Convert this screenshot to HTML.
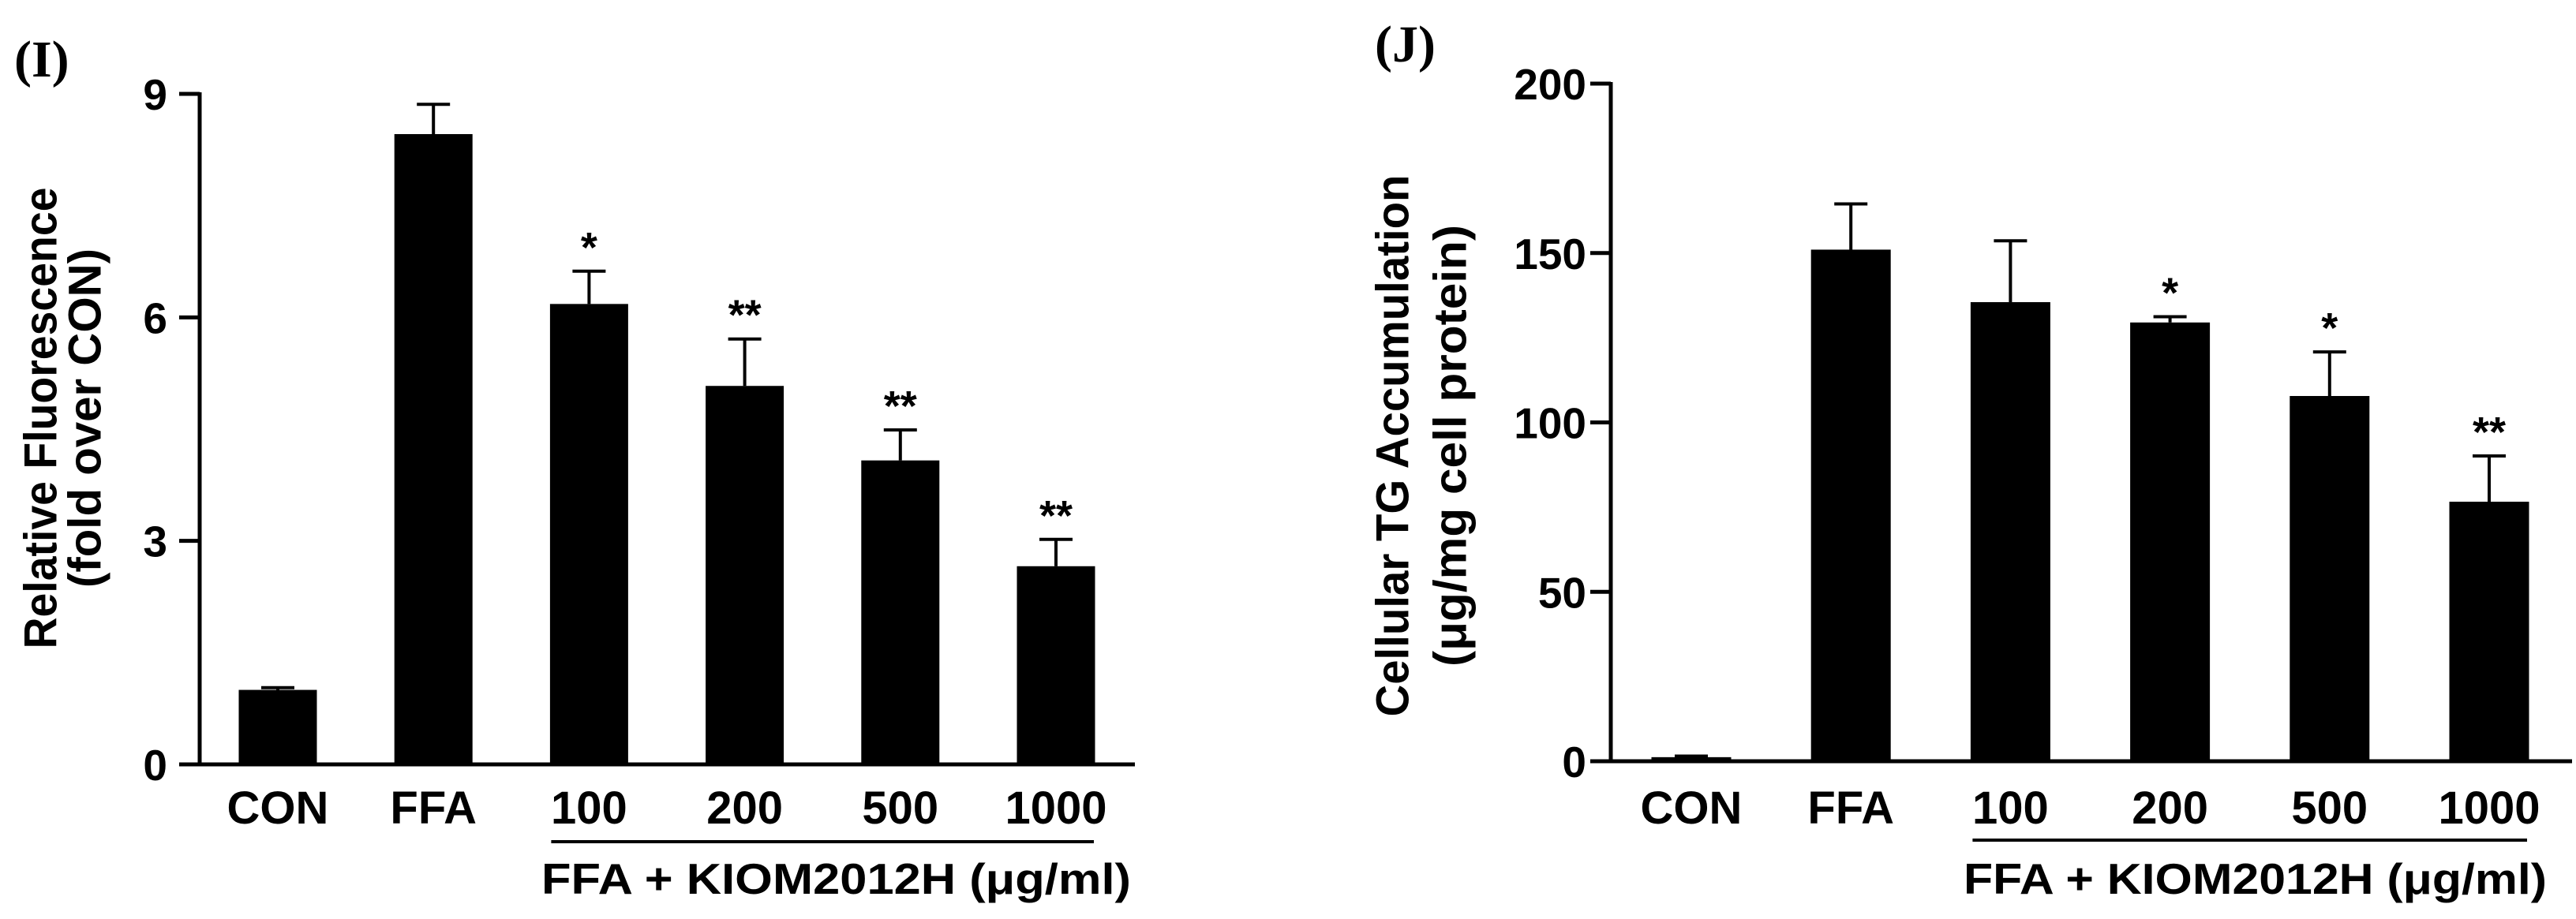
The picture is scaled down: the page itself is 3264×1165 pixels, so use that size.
<!DOCTYPE html>
<html><head><meta charset="utf-8"><style>
html,body{margin:0;padding:0;background:#fff;}
svg{display:block;font-family:"Liberation Sans",sans-serif;font-weight:bold;}
</style></head><body>
<svg id="fig" width="3264" height="1165" viewBox="0 0 3264 1165" xmlns="http://www.w3.org/2000/svg">
<text x="18" y="97" font-family="Liberation Serif,serif" font-size="66" font-weight="bold">(I)</text>
<text x="1742" y="78" font-family="Liberation Serif,serif" font-size="66" font-weight="bold">(J)</text>
</svg>
<script>
const categories = ["CON","FFA","100","200","500","1000"];
const leftValues = [1.0, 8.46, 6.18, 5.08, 4.08, 2.66];
const leftErrors = [0.03, 0.40, 0.44, 0.63, 0.41, 0.36];
const leftStars = ["", "", "*", "**", "**", "**"];
const leftTicks = [0, 3, 6, 9];
const rightValues = [1.2, 151, 135.5, 129.5, 107.8, 76.6];
const rightErrors = [0.3, 13.5, 18.1, 1.7, 13.0, 13.5];
const rightStars = ["", "", "", "*", "*", "**"];
const rightTicks = [0, 50, 100, 150, 200];

const NS = "http://www.w3.org/2000/svg";
const svg = document.getElementById("fig");
function mk(tag, attrs, parent){
  const e = document.createElementNS(NS, tag);
  for (const k in attrs) e.setAttribute(k, attrs[k]);
  (parent||svg).appendChild(e);
  return e;
}

function drawPanel(cfg){
  const g = mk("g", {});
  
  
  const y = v => cfg.y0 - (v - cfg.min) / (cfg.max - cfg.min) * (cfg.y0 - cfg.yTop);
  const x = i => cfg.xFirst + i * cfg.step;
  const ya = mk("line", {x1:cfg.axisX, y1:cfg.yTop-2, x2:cfg.axisX, y2:cfg.y0+2, stroke:"#000","stroke-width":5}, g);
  
  
  const xa = mk("line", {x1:cfg.axisX-2, y1:cfg.y0, x2:cfg.xEnd, y2:cfg.y0, stroke:"#000","stroke-width":5}, g);
  
  
  cfg.ticks.forEach(t => {
    const tk = mk("line", {x1:cfg.axisX-26, y1:y(t), x2:cfg.axisX, y2:y(t), stroke:"#000","stroke-width":5}, g);
    
    
    const tl = mk("text", {x:cfg.tickLabelX, y:y(t)+20, "text-anchor":"end","font-size":55}, g);
    tl.textContent = t;
    
    
  });
  cfg.values.forEach((v, i) => {
    const cx = x(i);
    const b = mk("rect", {x:cx-cfg.barW/2, y:y(v), width:cfg.barW, height:cfg.y0-y(v), fill:"#000"}, g);
    
    
    const top = y(v + cfg.errors[i]);
    const el = mk("line", {x1:cx, y1:y(v), x2:cx, y2:top, stroke:"#000","stroke-width":4}, g);
    
    
    const ec = mk("line", {x1:cx-21, y1:top, x2:cx+21, y2:top, stroke:"#000","stroke-width":4}, g);
    
    
    if (cfg.stars[i]) {
      const s = mk("text", {x:cx, y:top-12, "text-anchor":"middle","font-size":54}, g);
      s.textContent = cfg.stars[i];
      
      
    }
    const lbl = mk("text", {x:cx, y:1044, "text-anchor":"middle","font-size":58}, g);
    lbl.textContent = categories[i];
    
    
  });
  const ul = mk("line", {x1:x(2)-48, y1:cfg.ulY, x2:x(5)+48, y2:cfg.ulY, stroke:"#000","stroke-width":4}, g);
  
  
  const bt = mk("text", {x:cfg.btX, y:1133, "font-size":55, textLength:cfg.btW, lengthAdjust:"spacingAndGlyphs"}, g);
  bt.textContent = "FFA + KIOM2012H (\u03BCg/ml)";
  
  
  cfg.ylab.forEach((l, k) => {
    const t = mk("text", {x:0, y:0, transform:`translate(${l.x},${cfg.ylCenter}) rotate(-90)`, "text-anchor":"middle","dominant-baseline":"central","font-size":58, textLength:l.len, lengthAdjust:"spacingAndGlyphs"}, g);
    t.textContent = l.t;
    
    
  });
}

drawPanel({name:"chart-relative-fluorescence", values:leftValues, errors:leftErrors, stars:leftStars, ticks:leftTicks,
  min:0, max:9, y0:969, yTop:119, axisX:253, xEnd:1438, xFirst:352, step:197.2, barW:99,
  tickLabelX:212, ulY:1067, btX:686, btW:747, ylCenter:530,
  ylab:[{x:52,t:"Relative Fluorescence",len:585},{x:108,t:"(fold over CON)",len:430}]});

drawPanel({name:"chart-cellular-tg", values:rightValues, errors:rightErrors, stars:rightStars, ticks:rightTicks,
  min:0, max:200, y0:965, yTop:106, axisX:2041, xEnd:3259, xFirst:2143, step:202.2, barW:101,
  tickLabelX:2010, ulY:1065, btX:2488, btW:739, ylCenter:565,
  ylab:[{x:1765,t:"Cellular TG Accumulation",len:687},{x:1838,t:"(\u03BCg/mg cell protein)",len:560}]});
</script>
</body></html>
